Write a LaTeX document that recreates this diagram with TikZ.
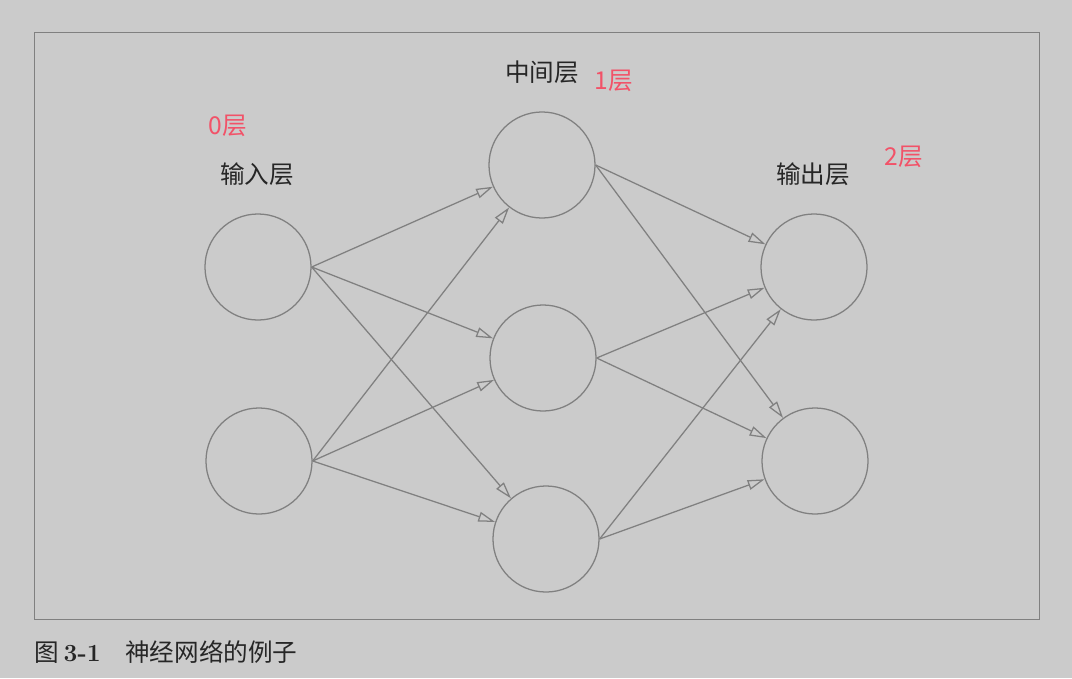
\documentclass[tikz,border=0pt]{standalone}
\usepackage{fontspec}
\newfontfamily\cjk{Noto Sans CJK SC}
\usetikzlibrary{arrows.meta}
\definecolor{bggray}{RGB}{203,203,203}
\definecolor{linegray}{RGB}{128,128,128}
\definecolor{layerred}{RGB}{242,82,104}
\tikzset{
  neuron/.style={circle, draw=linegray, line width=0.9pt, minimum size=2.65cm, inner sep=0pt},
  link/.style={draw=linegray, line width=0.9pt, -{Triangle[open, length=12pt, width=7pt]}},
  layername/.style={font=\fontsize{17.5}{20}\cjk, text=black!85},
  layernum/.style={font=\fontsize{17.5}{20}\cjk, text=layerred}
}
\begin{document}
\begin{tikzpicture}[x=0.025cm, y=-0.025cm]
            \fill[bggray] (0,0) rectangle (1072,678);
            \useasboundingbox (0,0) rectangle (1072,678);
            \draw[linegray, line width=0.6pt] (34,32) rectangle (1039,619);
            % neurons
            \node[neuron] (in0) at (258,267) {};
            \node[neuron] (in1) at (259,461) {};
            \node[neuron] (hid0) at (542,165) {};
            \node[neuron] (hid1) at (543,358) {};
            \node[neuron] (hid2) at (546,539) {};
            \node[neuron] (out0) at (814,267) {};
            \node[neuron] (out1) at (815,461) {};
            % labels
            \node[layername] (inname) at (257,174) {输入层};
            \node[layername] (hidname) at (542,72) {中间层};
            \node[layername] (outname) at (813,174) {输出层};
            \node[layernum] (innum) at (228,126) {0层};
            \node[layernum] (hidnum) at (614,81) {1层};
            \node[layernum] (outnum) at (904,157) {2层};
            % connections
            \foreach \i in {0,1}
              \foreach \j in {0,1,2}
                \draw[link] (in\i.east) -- (hid\j);
            \foreach \j in {0,1,2}
              \foreach \k in {0,1}
                \draw[link] (hid\j.east) -- (out\k);
            \node[anchor=west, font=\fontsize{17.5}{20}\selectfont, text=black!85] (caption) at (30,652)
              {{\cjk 图}\,\textbf{3-1}\quad{\cjk 神经网络的例子}};
        \end{tikzpicture}
\end{document}
